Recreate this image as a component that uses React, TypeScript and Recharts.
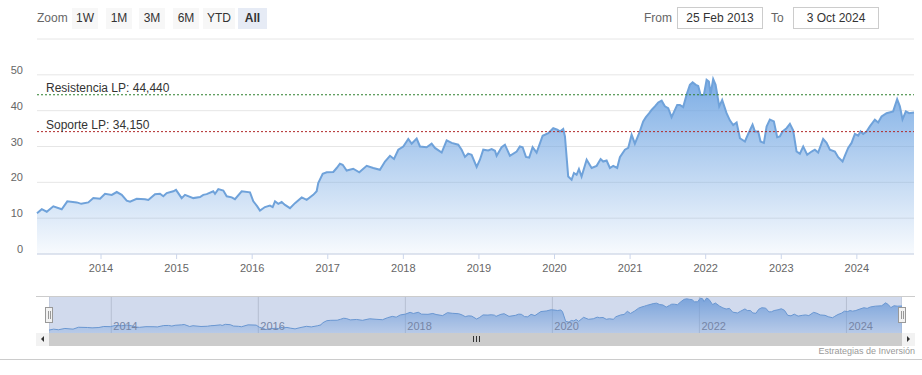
import { Area, AreaChart, CartesianGrid, ReferenceLine, XAxis, YAxis } from 'recharts';

// fecha (año decimal) y precio de cierre
const years = [
  2013.153, 2013.216, 2013.282, 2013.369, 2013.48, 2013.554, 2013.679, 2013.739, 2013.832, 2013.898, 2013.987,
  2014.053, 2014.142, 2014.208, 2014.274, 2014.34, 2014.384, 2014.472, 2014.582, 2014.626, 2014.714, 2014.78, 2014.824, 2014.869, 2014.956, 2014.992,
  2015.067, 2015.111, 2015.221, 2015.31, 2015.353, 2015.398, 2015.485, 2015.508, 2015.552, 2015.618, 2015.663, 2015.729, 2015.772, 2015.861, 2015.971,
  2016.015, 2016.067, 2016.103, 2016.169, 2016.235, 2016.271, 2016.302, 2016.345, 2016.39, 2016.434, 2016.5, 2016.566, 2016.655, 2016.721, 2016.808, 2016.853, 2016.874, 2016.933, 2016.986,
  2017.073, 2017.118, 2017.161, 2017.197, 2017.25, 2017.337, 2017.417, 2017.515, 2017.602, 2017.69, 2017.757, 2017.823, 2017.876, 2017.933, 2017.999,
  2018.065, 2018.11, 2018.176, 2018.22, 2018.308, 2018.374, 2018.418, 2018.507, 2018.573, 2018.639, 2018.726, 2018.771, 2018.815, 2018.858, 2018.903, 2018.97,
  2019.013, 2019.057, 2019.123, 2019.168, 2019.212, 2019.234, 2019.3, 2019.344, 2019.41, 2019.499, 2019.542, 2019.578, 2019.622, 2019.665, 2019.71, 2019.763, 2019.843, 2019.917, 2019.983,
  2020.036, 2020.071, 2020.115, 2020.138, 2020.181, 2020.226, 2020.257, 2020.292, 2020.323, 2020.358, 2020.425, 2020.491, 2020.557, 2020.61, 2020.644, 2020.689, 2020.733, 2020.776, 2020.829, 2020.865, 2020.931, 2020.975,
  2021.02, 2021.063, 2021.12, 2021.173, 2021.209, 2021.253, 2021.284, 2021.328, 2021.372, 2021.417, 2021.46, 2021.504, 2021.549, 2021.593, 2021.623, 2021.659, 2021.702, 2021.747, 2021.791, 2021.827, 2021.87, 2021.901, 2021.933, 2021.976,
  2022.012, 2022.042, 2022.065, 2022.099, 2022.131, 2022.179, 2022.218, 2022.276, 2022.32, 2022.364, 2022.409, 2022.453, 2022.519, 2022.562, 2022.62, 2022.651, 2022.695, 2022.726, 2022.77, 2022.806, 2022.849, 2022.902, 2022.946, 2022.981,
  2023.017, 2023.07, 2023.114, 2023.157, 2023.202, 2023.246, 2023.29, 2023.343, 2023.401, 2023.444, 2023.488, 2023.554, 2023.599, 2023.643, 2023.709, 2023.753, 2023.811, 2023.841, 2023.885, 2023.93, 2023.974,
  2024.017, 2024.049, 2024.083, 2024.128, 2024.172, 2024.238, 2024.282, 2024.327, 2024.393, 2024.48, 2024.533, 2024.569, 2024.604, 2024.648, 2024.692, 2024.756,
];

const prices = [
  11.4, 12.5, 11.8, 13.3, 12.5, 14.7, 14.4, 14.0, 14.4, 15.6, 15.4,
  16.8, 16.5, 17.3, 16.5, 14.9, 14.6, 15.4, 15.3, 15.1, 16.7, 16.8, 16.1, 17.0, 17.5, 17.9,
  15.6, 16.5, 15.6, 15.9, 16.5, 16.7, 17.5, 16.8, 18.1, 17.7, 16.1, 15.8, 15.3, 17.5, 17.2,
  14.7, 13.3, 12.1, 13.1, 13.5, 13.1, 14.7, 14.0, 14.5, 13.7, 12.8, 14.2, 15.8, 15.1, 16.5, 17.5, 19.8, 22.4, 22.8,
  22.9, 24.0, 25.2, 24.9, 23.3, 23.8, 22.8, 24.6, 24.0, 23.5, 25.8, 27.4, 26.5, 29.1, 30.0,
  32.1, 30.8, 32.2, 30.0, 29.8, 30.8, 29.6, 28.3, 31.7, 31.0, 30.5, 29.1, 27.1, 28.0, 27.7, 24.3,
  26.3, 29.1, 28.9, 29.3, 28.8, 27.4, 29.8, 30.5, 27.4, 28.6, 30.0, 29.8, 27.1, 26.9, 29.8, 28.3, 33.0, 33.7, 35.1,
  34.7, 34.2, 34.9, 32.8, 21.6, 20.7, 22.6, 22.1, 23.7, 21.6, 26.3, 24.0, 24.6, 26.5, 25.8, 26.1, 24.0, 24.6, 24.0, 27.0, 29.1, 29.6,
  33.3, 30.8, 33.7, 37.0, 38.2, 39.3, 40.2, 41.2, 42.3, 42.8, 41.2, 40.7, 38.2, 40.2, 41.6, 41.6, 41.0, 44.4, 47.2, 47.9, 47.2, 46.9, 44.4, 44.4,
  48.6, 48.1, 44.7, 48.8, 47.2, 41.2, 43.0, 39.3, 37.3, 36.0, 36.7, 32.3, 31.4, 33.5, 36.1, 34.2, 34.2, 31.4, 31.0, 35.6, 37.5, 37.0, 32.6, 32.8,
  34.2, 35.1, 36.3, 34.5, 28.6, 28.0, 30.0, 27.7, 28.6, 29.1, 28.3, 32.1, 31.0, 29.1, 28.6, 27.0, 25.8, 27.4, 29.6, 31.0, 33.5,
  33.0, 34.2, 33.5, 34.2, 35.6, 37.5, 36.7, 38.4, 39.3, 39.8, 43.2, 41.2, 37.6, 39.8, 39.3, 39.5,
];

const yearTicks = [2014, 2015, 2016, 2017, 2018, 2019, 2020, 2021, 2022, 2023, 2024];
const navTicks = [2014, 2016, 2018, 2020, 2022, 2024];
const yTicks = [0, 10, 20, 30, 40, 50, 60];
const zoomButtons = ['1W', '1M', '3M', '6M', 'YTD', 'All'];
const rangeFrom = '25 Feb 2013';
const rangeTo = '3 Oct 2024';
const resistencia = 44.44;
const soporte = 34.15;

const data = years.map((t, i) => ({ t, v: prices[i] }));

const FONT = '"Liberation Sans", Arial, sans-serif';
const fmt = (n: number) => n.toFixed(3).replace('.', ',');

function YTick({ x, y, payload }: any) {
  if (payload.value === 60) return <g />;
  return (
    <text x={x - 14} y={y - 1} textAnchor="end" fill="#666" fontSize={11} fontFamily={FONT}>
      {payload.value}
    </text>
  );
}

function XTick({ x, y, payload }: any) {
  return (
    <text x={x} y={y + 11} textAnchor="middle" fill="#666" fontSize={11} fontFamily={FONT}>
      {payload.value}
    </text>
  );
}

function NavTick({ x, y, payload }: any) {
  return (
    <text x={x + 2} y={y - 3} textAnchor="start" fill="#7d8699" fontSize={11} fontFamily={FONT}>
      {payload.value}
    </text>
  );
}

function plotLabel(text: string) {
  return (props: any) => (
    <text x={props.viewBox.x + 9} y={props.viewBox.y - 3} fill="#333" fontSize={12} fontFamily={FONT}>
      {text}
    </text>
  );
}

function Handle({ left }: { left: number }) {
  return (
    <div style={{ position: 'absolute', left, top: 307, width: 6, height: 14, background: '#f2f2f2', border: '1px solid #999' }}>
      <div style={{ position: 'absolute', left: 1.5, top: 3, width: 1, height: 8, background: '#999' }} />
      <div style={{ position: 'absolute', left: 3.5, top: 3, width: 1, height: 8, background: '#999' }} />
    </div>
  );
}

export default function App() {
  return (
    <div style={{ position: 'absolute', left: 0, top: 0, width: 922, height: 375, background: '#fff', fontFamily: FONT }}>
      {/* selector de rango */}
      <div style={{ position: 'absolute', left: 37, top: 11, fontSize: 12, color: '#666' }}>Zoom</div>
      {zoomButtons.map((b, i) => {
        const lefts = [72, 106, 139, 173, 203, 238];
        const widths = [26, 26, 26, 26, 32, 29];
        const active = b === 'All';
        return (
          <div
            key={b}
            style={{
              position: 'absolute', left: lefts[i], top: 8, width: widths[i], height: 21, lineHeight: '21px',
              textAlign: 'center', fontSize: 12, color: '#333', fontWeight: active ? 700 : 400,
              background: active ? '#e6ebf5' : '#f7f7f7',
            }}
          >
            {b}
          </div>
        );
      })}
      <div style={{ position: 'absolute', left: 644, top: 11, fontSize: 12, color: '#666' }}>From</div>
      <div style={{ position: 'absolute', left: 677, top: 7, width: 84, height: 20, lineHeight: '20px', border: '1px solid #ccc', textAlign: 'center', fontSize: 12, color: '#333' }}>{rangeFrom}</div>
      <div style={{ position: 'absolute', left: 771, top: 11, fontSize: 12, color: '#666' }}>To</div>
      <div style={{ position: 'absolute', left: 793, top: 7, width: 84, height: 20, lineHeight: '20px', border: '1px solid #ccc', textAlign: 'center', fontSize: 12, color: '#333' }}>{rangeTo}</div>

      {/* gráfico principal */}
      <div style={{ position: 'absolute', left: 0, top: 0 }}>
        <AreaChart width={922} height={290} data={data} margin={{ top: 39, right: 8, bottom: 0, left: 0 }}>
          <defs>
            <linearGradient id="mainFill" x1="0" y1="0" x2="0" y2="1">
              <stop offset="0%" stopColor="#6ea4e2" stopOpacity={0.9} />
              <stop offset="100%" stopColor="#6ea4e2" stopOpacity={0.05} />
            </linearGradient>
          </defs>
          <CartesianGrid vertical={false} stroke="#e6e6e6" />
          <XAxis
            dataKey="t" type="number" domain={['dataMin', 'dataMax']} ticks={yearTicks} height={36}
            stroke="#ccd6eb" tickSize={5} tick={<XTick />} interval={0}
          />
          <YAxis
            type="number" domain={[0, 60]} ticks={yTicks} width={37} axisLine={false} tickLine={false}
            tickSize={0} tickMargin={0} tick={<YTick />} interval={0}
          />
          <Area
            type="linear" dataKey="v" stroke="#6fa2da" strokeWidth={2} fill="url(#mainFill)" fillOpacity={1}
            dot={false} activeDot={false} isAnimationActive={false}
          />
          <ReferenceLine y={resistencia} stroke="#2d7f2d" strokeDasharray="2 2" label={plotLabel(`Resistencia LP: ${fmt(resistencia)}`)} />
          <ReferenceLine y={soporte} stroke="#b02828" strokeDasharray="2 2" label={plotLabel(`Soporte LP: ${fmt(soporte)}`)} />
        </AreaChart>
      </div>

      {/* navegador */}
      <div style={{ position: 'absolute', left: 36, top: 296, width: 879, height: 1, background: '#ccc' }} />
      <div style={{ position: 'absolute', left: 49, top: 297 }}>
        <AreaChart width={853} height={48} data={data} margin={{ top: 0, right: 0, bottom: 0, left: 0 }}>
          <defs>
            <linearGradient id="navFill" x1="0" y1="0" x2="0" y2="1">
              <stop offset="0%" stopColor="#6ea4e2" stopOpacity={0.85} />
              <stop offset="100%" stopColor="#6ea4e2" stopOpacity={0.25} />
            </linearGradient>
          </defs>
          <CartesianGrid horizontal={false} stroke="#d8d8d8" />
          <XAxis
            dataKey="t" type="number" domain={['dataMin', 'dataMax']} ticks={navTicks} height={12}
            axisLine={false} tickLine={false} tickSize={0} tickMargin={0} tick={<NavTick />} interval={0}
          />
          <YAxis type="number" domain={[8, 50]} hide />
          <Area
            type="linear" dataKey="v" stroke="#6b9fd8" strokeWidth={1} fill="url(#navFill)" fillOpacity={1}
            dot={false} activeDot={false} isAnimationActive={false}
          />
        </AreaChart>
      </div>
      <div style={{ position: 'absolute', left: 49, top: 297, width: 853, height: 36, background: 'rgba(102,133,194,0.3)' }} />
      <Handle left={45} />
      <Handle left={898} />

      {/* barra de desplazamiento */}
      <div style={{ position: 'absolute', left: 36, top: 333, width: 879, height: 13, background: '#f2f2f2' }} />
      <div style={{ position: 'absolute', left: 49, top: 333, width: 853, height: 13, background: '#cccccc' }} />
      <div style={{ position: 'absolute', left: 41, top: 336, width: 0, height: 0, borderTop: '3px solid transparent', borderBottom: '3px solid transparent', borderRight: '3px solid #333' }} />
      <div style={{ position: 'absolute', left: 907, top: 336, width: 0, height: 0, borderTop: '3px solid transparent', borderBottom: '3px solid transparent', borderLeft: '3px solid #333' }} />
      {[0, 1, 2].map((i) => (
        <div key={i} style={{ position: 'absolute', left: 473 + i * 3, top: 336, width: 1, height: 6, background: '#333' }} />
      ))}

      <div style={{ position: 'absolute', right: 7, top: 346, fontSize: 9, color: '#999' }}>Estrategias de Inversión</div>
      <div style={{ position: 'absolute', left: 0, top: 359, width: 922, height: 1, background: '#ccc' }} />
    </div>
  );
}
